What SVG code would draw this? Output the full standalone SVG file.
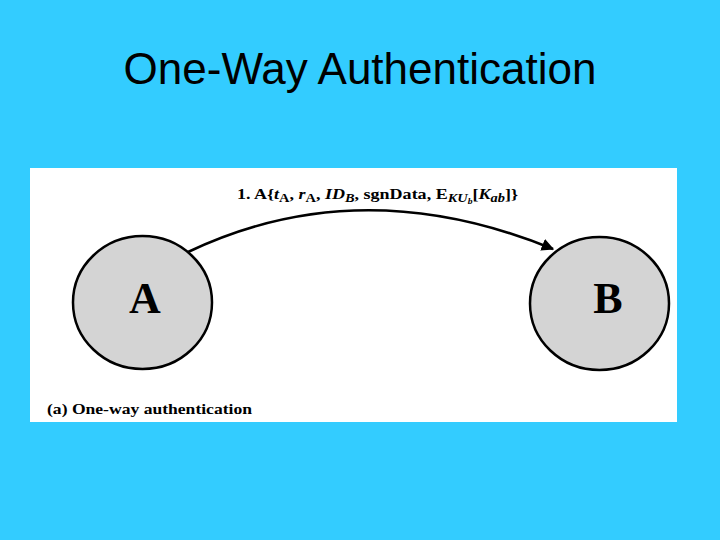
<svg xmlns="http://www.w3.org/2000/svg" width="720" height="540" viewBox="0 0 720 540">
<defs>
<style>
.title{font-family:"Liberation Sans",Arial,sans-serif;font-size:44px;fill:#000}
.node{fill:#d4d4d4;stroke:#000;stroke-width:2.5}
.nl{font-family:"Liberation Serif","Times New Roman",serif;font-weight:bold;font-size:44px;fill:#000;text-anchor:middle}
.lbl{font-family:"Liberation Serif","Times New Roman",serif;font-weight:bold;font-size:15px;fill:#000}
.it{font-style:italic}
.sub{font-size:12px}
.conn{fill:none;stroke:#000;stroke-width:2.5}
</style>
<marker id="arr" viewBox="0 0 10 10" refX="9" refY="5" markerWidth="5" markerHeight="5" orient="auto" markerUnits="strokeWidth">
<path d="M0,0 L10,5 L0,10 z" fill="#000"/>
</marker>
</defs>
<rect x="0" y="0" width="720" height="540" fill="#33ccff"/>
<text class="title" x="360" y="84" text-anchor="middle">One-Way Authentication</text>
<rect x="30" y="168" width="647" height="254" fill="#fff"/>
<g id="connectors">
<path class="conn" d="M188,252 Q360,170 553,249" marker-end="url(#arr)"/>
<text class="lbl" x="237" y="199" textLength="281" lengthAdjust="spacingAndGlyphs">1. A{<tspan class="it">t</tspan><tspan class="sub" dy="3">A</tspan><tspan dy="-3">, </tspan><tspan class="it">r</tspan><tspan class="sub" dy="3">A</tspan><tspan dy="-3">, </tspan><tspan class="it">ID</tspan><tspan class="sub it" dy="3">B</tspan><tspan dy="-3">, sgnData, E</tspan><tspan class="sub it" dy="3">KU</tspan><tspan class="it" font-size="8" dy="2">b</tspan><tspan dy="-5">[</tspan><tspan class="it">K</tspan><tspan class="sub it" dy="3">ab</tspan><tspan dy="-3">]}</tspan></text>
</g>
<g id="node-A">
<ellipse class="node" cx="142.5" cy="302.5" rx="69.5" ry="66.5"/>
<text class="nl" x="145" y="313">A</text>
</g>
<g id="node-B">
<ellipse class="node" cx="599.5" cy="303.5" rx="69.5" ry="66.5"/>
<text class="nl" x="608" y="313">B</text>
</g>
<text class="lbl" x="47" y="414" textLength="205" lengthAdjust="spacingAndGlyphs">(a) One-way authentication</text>
</svg>
